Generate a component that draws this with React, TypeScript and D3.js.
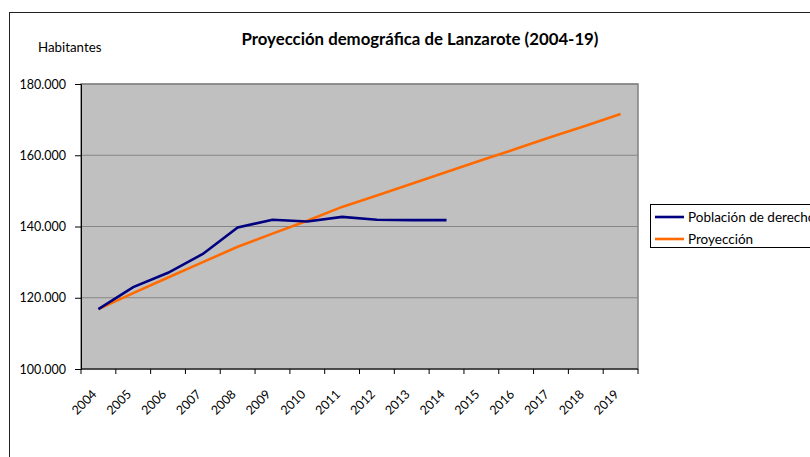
import { useEffect, useRef } from 'react';
import * as d3 from 'd3';

const years = ['2004', '2005', '2006', '2007', '2008', '2009', '2010', '2011', '2012', '2013', '2014', '2015', '2016', '2017', '2018', '2019'];
const poblacion = [116800, 123000, 127000, 132300, 139700, 141900, 141400, 142700, 141900, 141800, 141800];
const proyeccion = [116800, 121300, 125700, 130000, 134300, 138000, 141600, 145500, 148700, 152000, 155300, 158600, 161800, 165100, 168300, 171600];
const yTicks = [100000, 120000, 140000, 160000, 180000];

const FONT = 'Lato, "Open Sans", sans-serif';
const W = 810;
const H = 457;

const fmtNum = (n: number) => d3.format(',')(n).replace(/,/g, '.');

export default function App() {
  const svgRef = useRef<SVGSVGElement>(null);

  useEffect(() => {
    const svgEl = svgRef.current;
    if (!svgEl) return;
    const svg = d3.select(svgEl);
    svg.selectAll('*').remove();

    // plot area
    const left = 81, right = 638, top = 84, bottom = 369;

    const x = d3.scaleBand<string>().domain(years).range([left, right]).padding(0);
    const y = d3.scaleLinear().domain([100000, 180000]).range([bottom, top]);

    // outer chart border (runs off the page)
    svg.append('rect')
      .attr('x', 9.5).attr('y', 12.5)
      .attr('width', W + 20).attr('height', H + 20)
      .attr('fill', 'none').attr('stroke', '#222').attr('stroke-width', 1);

    // plot background
    svg.append('rect')
      .attr('x', left).attr('y', top)
      .attr('width', right - left).attr('height', bottom - top)
      .attr('fill', '#c0c0c0')
      .attr('stroke', '#808080').attr('stroke-width', 1.5);

    // gridlines
    svg.append('g')
      .selectAll('line')
      .data(yTicks.slice(1))
      .join('line')
      .attr('x1', left).attr('x2', right)
      .attr('y1', d => y(d)).attr('y2', d => y(d))
      .attr('stroke', '#868686').attr('stroke-width', 1.2);

    // y axis
    const yAxis = svg.append('g')
      .attr('transform', `translate(${left},0)`)
      .call(d3.axisLeft(y).tickValues(yTicks).tickSize(6).tickPadding(9).tickFormat(d => fmtNum(+d)));
    yAxis.select('.domain').attr('stroke', '#000');
    yAxis.selectAll('.tick line').attr('stroke', '#000');
    yAxis.selectAll('text')
      .attr('font-family', FONT).attr('font-size', 12.5).attr('fill', '#000');

    // x axis
    const xAxis = svg.append('g')
      .attr('transform', `translate(0,${bottom})`);
    xAxis.append('line')
      .attr('x1', left).attr('x2', right)
      .attr('stroke', '#000');
    const bounds = years.map(d => x(d) as number).concat([right]);
    xAxis.selectAll('line.tk')
      .data(bounds)
      .join('line')
      .attr('class', 'tk')
      .attr('x1', d => d).attr('x2', d => d)
      .attr('y1', 0).attr('y2', 5)
      .attr('stroke', '#000');
    xAxis.selectAll('text')
      .data(years)
      .join('text')
      .attr('transform', d => `translate(${(x(d) as number) + x.bandwidth() / 2 - 1},${26}) rotate(-45)`)
      .attr('text-anchor', 'end')
      .attr('font-family', FONT).attr('font-size', 12.5).attr('fill', '#000')
      .text(d => d);

    const cx = (i: number) => (x(years[i]) as number) + x.bandwidth() / 2;
    const line = d3.line<number>().x((_, i) => cx(i)).y(d => y(d));

    svg.append('path')
      .attr('d', line(proyeccion))
      .attr('fill', 'none').attr('stroke', '#ff6a00').attr('stroke-width', 2.6);

    svg.append('path')
      .attr('d', line(poblacion))
      .attr('fill', 'none').attr('stroke', '#000080').attr('stroke-width', 2.6);

    // title
    svg.append('text')
      .attr('x', 420).attr('y', 45)
      .attr('text-anchor', 'middle')
      .attr('font-family', FONT).attr('font-weight', 700).attr('font-size', 16.8)
      .text('Proyección demográfica de Lanzarote (2004-19)');

    svg.append('text')
      .attr('x', 38).attr('y', 52)
      .attr('font-family', FONT).attr('font-size', 13.3)
      .text('Habitantes');

    // legend
    const lg = svg.append('g');
    lg.append('rect')
      .attr('x', 650.5).attr('y', 204.5)
      .attr('width', 200).attr('height', 43)
      .attr('fill', '#fff').attr('stroke', '#000');
    const items = [
      { label: 'Población de derecho', color: '#000080' },
      { label: 'Proyección', color: '#ff6a00' },
    ];
    items.forEach((it, i) => {
      const yy = 217 + i * 22;
      lg.append('line')
        .attr('x1', 655).attr('x2', 684)
        .attr('y1', yy).attr('y2', yy)
        .attr('stroke', it.color).attr('stroke-width', 2.6);
      lg.append('text')
        .attr('x', 688).attr('y', yy + 5)
        .attr('font-family', FONT).attr('font-size', 13.5)
        .text(it.label);
    });
  }, []);

  return (
    <svg
      ref={svgRef}
      width={W}
      height={H}
      style={{ position: 'absolute', left: 0, top: 0, display: 'block', background: '#fff' }}
    />
  );
}
